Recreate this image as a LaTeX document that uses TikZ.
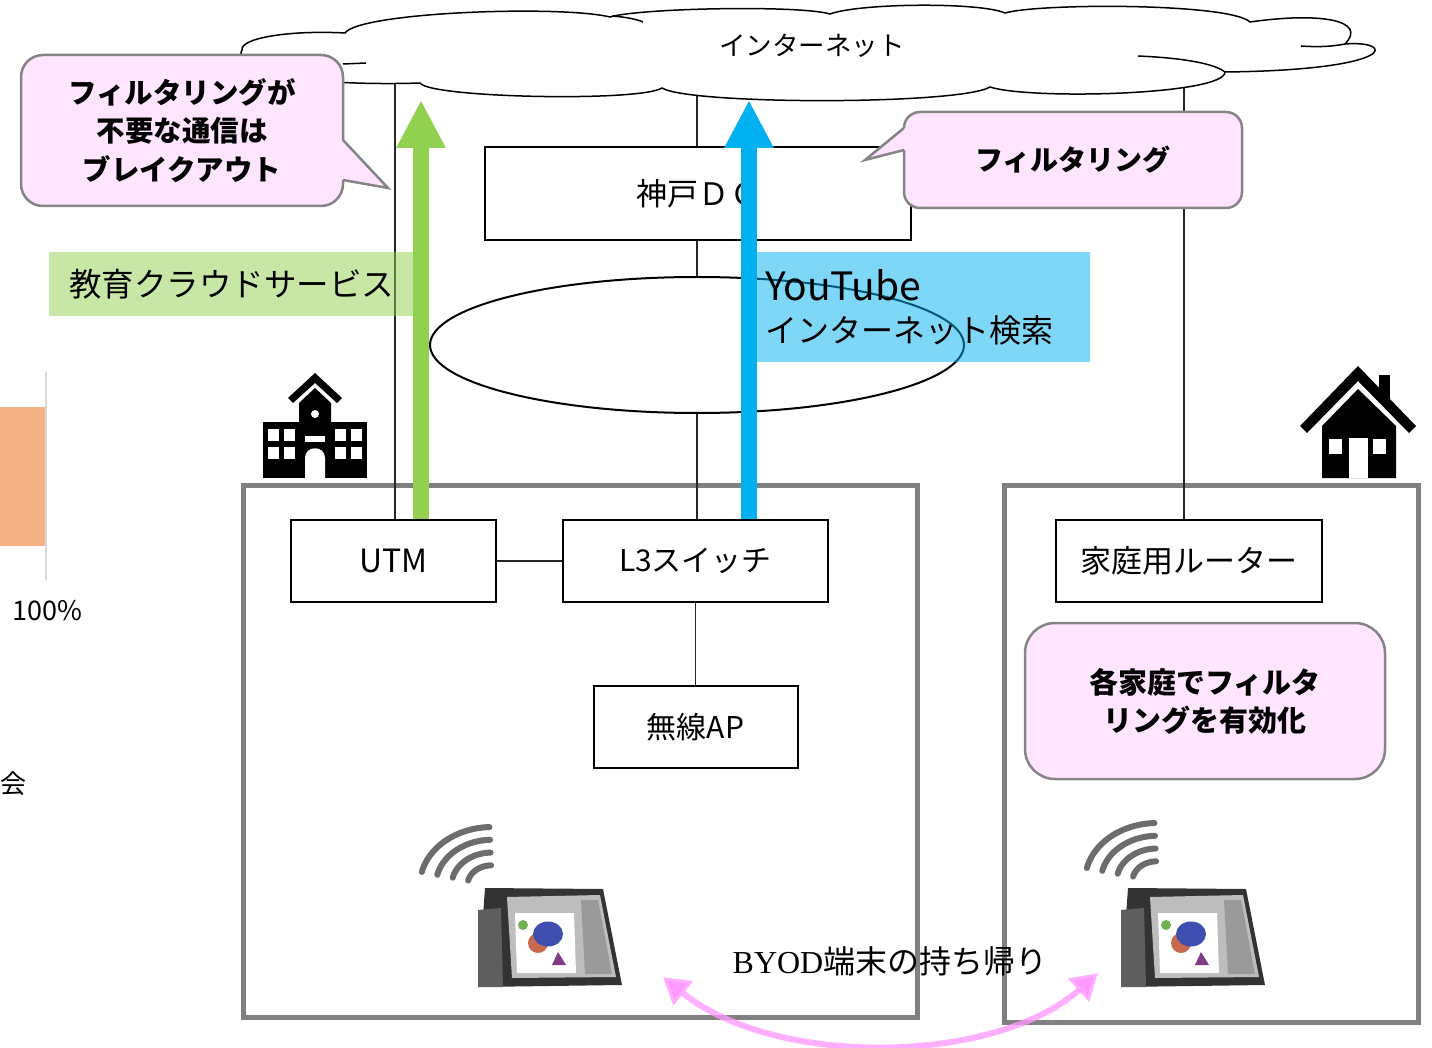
\documentclass[tikz,border=0pt]{standalone}
\usepackage{fontspec}
\setmainfont{Noto Sans CJK JP}
\newfontfamily\byodserif{Liberation Serif}
\usetikzlibrary{arrows.meta,shapes.geometric}

\definecolor{calloutfill}{HTML}{FFE5FF}
\definecolor{calloutedge}{HTML}{858585}
\definecolor{framegray}{HTML}{808080}
\definecolor{svcgreen}{HTML}{92D050}
\definecolor{netblue}{HTML}{00B0F0}
\definecolor{barorange}{HTML}{F4B183}
\definecolor{axisgray}{HTML}{D9D9D9}
\definecolor{byodpink}{HTML}{FF99FF}
\definecolor{tabcasec}{HTML}{333333}
\definecolor{tabflapc}{HTML}{5E5E5E}
\definecolor{tabscreenc}{HTML}{BDBDBD}
\definecolor{tabpanelc}{HTML}{9A9A9A}
\definecolor{tabred}{HTML}{C8684E}
\definecolor{tabblue}{HTML}{3F4FAF}
\definecolor{tabgreen}{HTML}{6FB04F}
\definecolor{tabpurple}{HTML}{7D3C83}

\newcommand{\setfs}[1]{\fontsize{#1}{#1}\selectfont}

\tikzset{
  devbox/.style={draw=black, line width=2pt, fill=white, inner sep=0pt},
  link/.style={draw=black!85, line width=1.3pt},
  framebox/.style={draw=framegray, line width=5pt, inner sep=0pt},
  cloudedge/.style={draw=black, line width=1.5pt},
  callout/.style={fill=calloutfill, draw=calloutedge, line width=2.5pt, inner sep=0pt, align=center},
  bandbox/.style={fill opacity=0.5, text opacity=1, inner sep=0pt, align=left},
  upgreen/.style={draw=svcgreen, line width=16pt, -{Triangle[length=48pt,width=46pt]}},
  upblue/.style={draw=netblue, line width=16pt, -{Triangle[length=48pt,width=46pt]}},
  byodarrow/.style={draw=byodpink, draw opacity=0.78, line width=6pt,
    {Triangle[length=26pt,width=30pt]}-{Triangle[length=26pt,width=30pt]}},
  wifiarc/.style={draw=black!68, line width=6pt, line cap=round, opacity=0.85},
}

% tablet on its stand; #1 = top-left corner of the case
\newcommand{\tabletpic}[1]{%
  \begin{scope}[shift={#1}]
    \fill[tabcasec] (0,0) -- (118,1) -- (137,97) -- (-7,99) -- cycle;
    \fill[tabflapc] (-7,22) -- (16,20) -- (18,99) -- (-7,99) -- cycle;
    \fill[tabscreenc] (22,9) -- (115,7) -- (131,89) -- (27,90) -- cycle;
    \fill[tabpanelc] (96,12) -- (113,12) -- (127,86) -- (100,86) -- cycle;
    \fill[white] (30,25) -- (89,25) -- (91,85) -- (32,85) -- cycle;
    \fill[tabred] (53,55) circle [radius=10];
    \fill[tabblue] (63,46) ellipse [x radius=15, y radius=12.5];
    \fill[tabgreen] (38,37) circle [radius=5];
    \fill[tabpurple] (73,64) -- (81,77) -- (67,77) -- cycle;
  \end{scope}}

% radio waves; #1 = centre of the arcs
\newcommand{\wifipic}[1]{%
  \begin{scope}[shift={#1}]
    \foreach \wr in {1,0.78,0.56,0.34}{
      \draw[wifiarc] plot[domain=193:268, samples=24]
        ({72*\wr*cos(\x)}, {58*\wr*sin(\x)});
    }
  \end{scope}}

\begin{document}
\begin{tikzpicture}[x=1pt,y=-1pt]
\useasboundingbox (0,0) rectangle (1432,1048);

% remnants of a bar chart on the left margin
\fill[barorange] (0,407) rectangle (46,546);
\draw[axisgray, line width=2pt] (46,372) -- (46,580);
\node[font=\setfs{27}] (pct) at (47,611) {100\%};
\node[font=\setfs{26}] (kai) at (13,784) {会};

% school and home
\node[framebox, minimum width=674pt, minimum height=532pt] (school) at (580,751) {};
\node[framebox, minimum width=414pt, minimum height=537pt] (home) at (1211,753.5) {};

% network devices
\node[devbox, minimum width=426pt, minimum height=93pt, font=\setfs{31}] (dc) at (698,193.5) {神戸ＤＣ};
\node[ellipse, draw=black, line width=2pt, fill=white, minimum width=534pt, minimum height=136pt] (wan) at (697,345) {};
\node[devbox, minimum width=205pt, minimum height=82pt, font=\setfs{32}] (utm) at (393.5,561) {UTM};
\node[devbox, minimum width=265pt, minimum height=82pt, font=\setfs{30}] (l3) at (695.5,561) {L3スイッチ};
\node[devbox, minimum width=204pt, minimum height=82pt, font=\setfs{30}] (ap) at (695.5,727) {無線AP};
\node[devbox, minimum width=266pt, minimum height=82pt, font=\setfs{31}] (router) at (1189,561) {家庭用ルーター};

% wiring
\coordinate (cloudSW) at (395,75);
\coordinate (cloudS) at (697,90);
\coordinate (cloudSE) at (1184,80);
\draw[link] (utm.north -| cloudSW) -- (cloudSW);
\draw[link] (dc.north -| cloudS) -- (cloudS);
\draw[link] (dc.south -| cloudS) -- (wan.north -| cloudS);
\draw[link] (wan.south -| cloudS) -- (l3.north -| cloudS);
\draw[link] (utm.east) -- (l3.west);
\draw[link] (l3.south) -- (ap.north);
\draw[link] (router.north -| cloudSE) -- (cloudSE);

% internet cloud
\draw[cloudedge, fill=white] (242,50)
  .. controls (240,38) and (290,30) .. (345,33)
  .. controls (360,12) and (560,5) .. (610,17)
  .. controls (640,8) and (800,5) .. (830,14)
  .. controls (860,3) and (980,2) .. (1005,13)
  .. controls (1040,3) and (1230,3) .. (1250,22)
  .. controls (1320,12) and (1368,20) .. (1345,44)
  .. controls (1395,40) and (1400,70) .. (1225,72)
  .. controls (1225,95) and (1030,100) .. (990,87)
  .. controls (960,105) and (690,105) .. (662,88)
  .. controls (640,102) and (430,98) .. (420,83)
  .. controls (330,86) and (236,76) .. (250,60)
  .. controls (240,57) and (240,53) .. (242,50) -- cycle;
\draw[cloudedge] (612,16) .. controls (625,17) and (636,19) .. (643,22);
\draw[cloudedge] (1138,56) .. controls (1185,58) and (1215,64) .. (1225,72);
\draw[cloudedge] (1345,44) .. controls (1330,47) and (1315,47) .. (1301,46);
\draw[cloudedge] (343,64) -- (366,63);
\node[font=\setfs{26.5}] (inet) at (812,46) {インターネット};

% traffic bands
\node[bandbox, fill=svcgreen, minimum width=364pt, minimum height=64pt, text width=324pt,
      font=\setfs{32.5}] (svc) at (231,284) {教育クラウドサービス};
\node[bandbox, fill=netblue, minimum width=333pt, minimum height=110pt, text width=317pt,
      font=\fontsize{32}{42}\selectfont] (yt) at (923.5,307)
      {{\fontsize{39}{42}\selectfont YouTube}\\インターネット検索};

% upstream traffic
\coordinate (gtip) at (421,100);
\coordinate (btip) at (749,100);
\draw[upgreen] (utm.north -| gtip) -- (gtip);
\draw[upblue] (l3.north -| btip) -- (btip);

% callouts
\node[callout, rounded corners=22pt, minimum width=322pt, minimum height=151pt,
      font=\bfseries\fontsize{28.5}{38.5}\selectfont] (breakout) at (182,130.5)
      {フィルタリングが\\不要な通信は\\ブレイクアウト};
\fill[calloutfill] (338,141) -- (343,140) -- (388,188) -- (343,180) -- (338,179) -- cycle;
\draw[calloutedge, line width=2.5pt, line join=miter] (343,140) -- (388,188) -- (343,180);

\node[callout, rounded corners=16pt, minimum width=338pt, minimum height=96pt,
      font=\bfseries\setfs{28}] (filt) at (1073,160) {フィルタリング};
\fill[calloutfill] (909,129) -- (904,128) -- (865,160) -- (904,150) -- (909,149) -- cycle;
\draw[calloutedge, line width=2.5pt, line join=miter] (904,128) -- (865,160) -- (904,150);

\node[callout, rounded corners=30pt, minimum width=360pt, minimum height=156pt,
      font=\bfseries\fontsize{29}{38}\selectfont] (homefilt) at (1205,701)
      {各家庭でフィルタ\\リングを有効化};

% school icon
\fill[black] (288,398) -- (315,373) -- (342,398) -- (337,403) -- (315,383) -- (293,403) -- cycle;
\fill[black] (299,422) -- (299,403) -- (315,388) -- (331,403) -- (331,422) -- cycle;
\fill[black] (263,422) rectangle (367,478);
\fill[white] (315,414) circle [radius=4];
\foreach \wx in {268,284,335,351}{
  \fill[white] (\wx,429) rectangle ++(11,12);
  \fill[white] (\wx,447) rectangle ++(11,12);
}
\fill[white] (305,436) rectangle (325,442);
\fill[white] (305,478) -- (305,458) .. controls (305,445) and (325,445) .. (325,458) -- (325,478) -- cycle;

% house icon
\fill[black] (1300,426) -- (1358,366) -- (1416,426) -- (1409,433) -- (1358,381) -- (1307,433) -- cycle;
\fill[black] (1379,375) rectangle (1390,402);
\fill[black] (1322,478) -- (1322,426) -- (1358,389) -- (1396,426) -- (1396,478) -- cycle;
\fill[white] (1329,439) rectangle (1342,454);
\fill[white] (1373,439) rectangle (1386,454);
\fill[white] (1349,438) rectangle (1368,478);

% tablets with radio waves
\wifipic{(492,885)}
\tabletpic{(485,888)}
\wifipic{(1157,881)}
\tabletpic{(1128,888)}

% taking devices home
\node[font=\setfs{32}] (byod) at (890,961) {{\byodserif BYOD}端末の持ち帰り};
\coordinate (byodL) at (663,977);
\coordinate (byodR) at (1098,973);
\draw[byodarrow] (byodL) .. controls (775,1068) and (995,1065) .. (byodR);

\end{tikzpicture}
\end{document}
